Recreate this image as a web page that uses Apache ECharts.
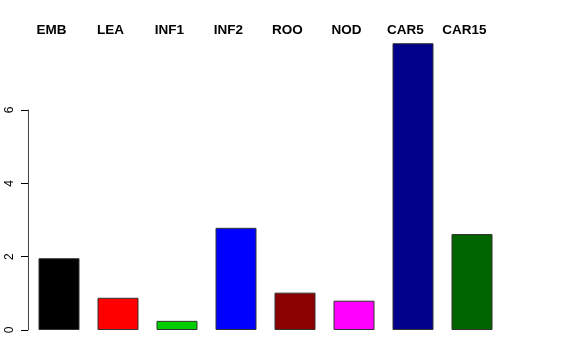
<!DOCTYPE html>
<html>
<head>
<meta charset="utf-8">
<script src="https://cdn.jsdelivr.net/npm/echarts@6/dist/echarts.min.js"></script>
<style>html,body{margin:0;padding:0;background:#fff}#c{width:576px;height:360px}</style>
</head>
<body>
<div id="c"></div>
<script>
const categories = ["EMB", "LEA", "INF1", "INF2", "ROO", "NOD", "CAR5", "CAR15"];
const values = [1.96, 0.88, 0.25, 2.79, 1.02, 0.80, 7.83, 2.62];
const colors = ["#000000", "#FF0000", "#00CD00", "#0000FF", "#8B0000", "#FF00FF", "#00008B", "#006400"];
const yTicks = [0, 2, 4, 6];

const chart = echarts.init(document.getElementById('c'), null, {renderer: 'canvas'});
chart.setOption({
  animation: false,
  grid: [
    {left: 29.5, width: 472, top: 37, height: 293},
    {left: 28, width: 472, top: 110, height: 220}
  ],
  xAxis: [
    {type: 'category', gridIndex: 0, data: categories, position: 'top',
     axisLine: {show: false}, axisTick: {show: false},
     axisLabel: {show: true, fontFamily: 'Liberation Sans, Arial, sans-serif', fontWeight: 'bold',
                 fontSize: 13.5, color: '#000', margin: 0, padding: [0, 15, 0, 0], align: 'center'}},
    {type: 'category', gridIndex: 1, data: categories, show: false}
  ],
  yAxis: [
    {type: 'value', gridIndex: 0, min: 0, max: 8, show: false},
    {type: 'value', gridIndex: 1, min: yTicks[0], max: yTicks[yTicks.length - 1], interval: 2,
     axisLine: {show: true, lineStyle: {color: '#444', width: 1}},
     axisTick: {show: true, length: 7, lineStyle: {color: '#000'}},
     splitLine: {show: false},
     axisLabel: {rotate: 90, margin: 12, fontFamily: 'Liberation Sans, Arial, sans-serif',
                 fontSize: 12, color: '#000'}}
  ],
  series: [{
    type: 'bar', xAxisIndex: 0, yAxisIndex: 0, barWidth: 41,
    data: values.map((v, i) => ({value: v, itemStyle: {color: colors[i]}})),
    itemStyle: {borderColor: '#333', borderWidth: 1}
  }]
});
</script>
</body>
</html>
